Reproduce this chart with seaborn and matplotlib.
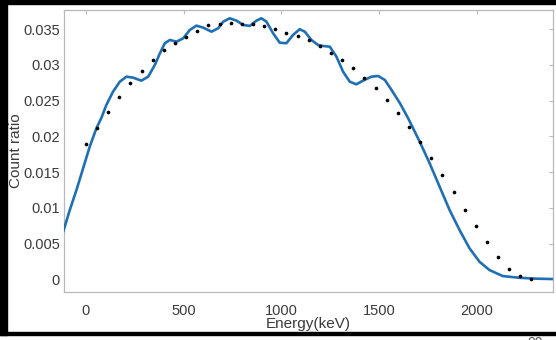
import numpy as np
import pandas as pd
import matplotlib
matplotlib.use("Agg")
import matplotlib.pyplot as plt
from matplotlib.patches import Rectangle
from matplotlib.ticker import FuncFormatter
import seaborn as sns

# fitted curve
curve_energy = [-116, -82, -48, -14, 20, 54, 80, 105, 139, 174, 208, 242, 284, 319,
                353, 379, 404, 430, 464, 498, 532, 566, 600, 643, 677, 703, 736, 771,
                805, 839, 873, 898, 924, 958, 992, 1026, 1060, 1094, 1120, 1154, 1188,
                1214, 1248, 1282, 1316, 1350, 1384, 1418, 1461, 1496, 1530, 1564, 1607,
                1649, 1708, 1759, 1810, 1861, 1912, 1963, 2014, 2065, 2133, 2218, 2300,
                2389]
curve_ratio = [0.00666, 0.0097, 0.01249, 0.01552, 0.01855, 0.02112, 0.0226, 0.02438,
               0.02624, 0.02764, 0.02834, 0.0282, 0.02778, 0.02834, 0.02997, 0.03161,
               0.03301, 0.03347, 0.03323, 0.0337, 0.03487, 0.03547, 0.0352, 0.03463,
               0.0351, 0.03603, 0.0365, 0.03617, 0.03557, 0.03543, 0.03617, 0.0365,
               0.03603, 0.0344, 0.03309, 0.03301, 0.03417, 0.03497, 0.03463, 0.03347,
               0.03277, 0.03263, 0.03253, 0.03114, 0.02904, 0.02764, 0.02727, 0.02778,
               0.02834, 0.02843, 0.02787, 0.02648, 0.02462, 0.02252, 0.01925, 0.01622,
               0.01295, 0.00969, 0.0069, 0.00434, 0.00246, 0.0013, 0.00046, 0.00022,
               0.0001, 0.00004]

# measured points
dot_energy = [0, 57, 114, 171, 228, 285, 342, 399, 456, 513, 570, 627, 684, 741, 798,
              855, 912, 969, 1026, 1083, 1140, 1197, 1254, 1311, 1368, 1425, 1482,
              1539, 1596, 1653, 1710, 1767, 1824, 1881, 1938, 1995, 2052, 2109, 2166,
              2223, 2280]
dot_ratio = [0.0189, 0.0211, 0.0234, 0.0255, 0.0275, 0.0292, 0.0307, 0.0320, 0.0330,
             0.0339, 0.0347, 0.0356, 0.0357, 0.0358, 0.0357, 0.0357, 0.0354, 0.0350,
             0.0345, 0.0340, 0.0334, 0.0326, 0.0317, 0.0307, 0.0295, 0.0282, 0.0267,
             0.0251, 0.0233, 0.0213, 0.0192, 0.0170, 0.0146, 0.0122, 0.0097, 0.0074,
             0.0052, 0.0031, 0.0015, 0.0004, 0.0000]

x_ticks = [0, 500, 1000, 1500, 2000]
y_ticks = [0, 0.005, 0.01, 0.015, 0.02, 0.025, 0.03, 0.035]

curve_df = pd.DataFrame({"energy": curve_energy, "ratio": curve_ratio})
dot_df = pd.DataFrame({"energy": dot_energy, "ratio": dot_ratio})

sns.set_style("white")
plt.rcParams["font.family"] = ["Liberation Sans", "DejaVu Sans"]

fig = plt.figure(figsize=(5.56, 3.4), dpi=100)
ax = fig.add_axes([0.115, 0.142, 0.8796, 0.8286])

sns.lineplot(data=curve_df, x="energy", y="ratio", ax=ax, color="#1f6fb4",
             linewidth=1.9, estimator=None, sort=False, zorder=3,
             solid_joinstyle="round", solid_capstyle="round")
sns.scatterplot(data=dot_df, x="energy", y="ratio", ax=ax, color="black",
                s=7, linewidth=0, zorder=4)

ax.set_xlim(-112, 2390)
ax.set_ylim(-0.00173, 0.03766)
ax.set_xticks(x_ticks)
ax.set_yticks(y_ticks)
ax.yaxis.set_major_formatter(FuncFormatter(lambda v, p: "%g" % v))

ax.tick_params(direction="in", length=3, color="#b8b8b8", labelsize=10.5,
               labelcolor="#3a3a3a", top=True, right=True)
ax.tick_params(axis="x", pad=9)
ax.tick_params(axis="y", pad=3)
for s in ax.spines.values():
    s.set_color("#b8b8b8")
    s.set_linewidth(0.9)

ax.set_xlabel("Energy(keV)", fontsize=11, color="#3a3a3a")
ax.set_ylabel("Count ratio", fontsize=11, color="#3a3a3a")
ax.xaxis.set_label_coords(0.5, -0.089)
ax.yaxis.set_label_coords(-0.083, 0.5)

# black frame from the screenshot
fig.patches.append(Rectangle((0, 1 - 4 / 340), 1, 4 / 340, transform=fig.transFigure,
                             color="black", zorder=10))
fig.patches.append(Rectangle((0, 5 / 340), 7 / 556, 1, transform=fig.transFigure,
                             color="black", zorder=10))
fig.patches.append(Rectangle((0, 5 / 340), 1, 3 / 340, transform=fig.transFigure,
                             color="black", zorder=10))
fig.text(0.948, -0.022, "00", fontsize=10, color="#555555")

fig.savefig("out.png", dpi=100)
